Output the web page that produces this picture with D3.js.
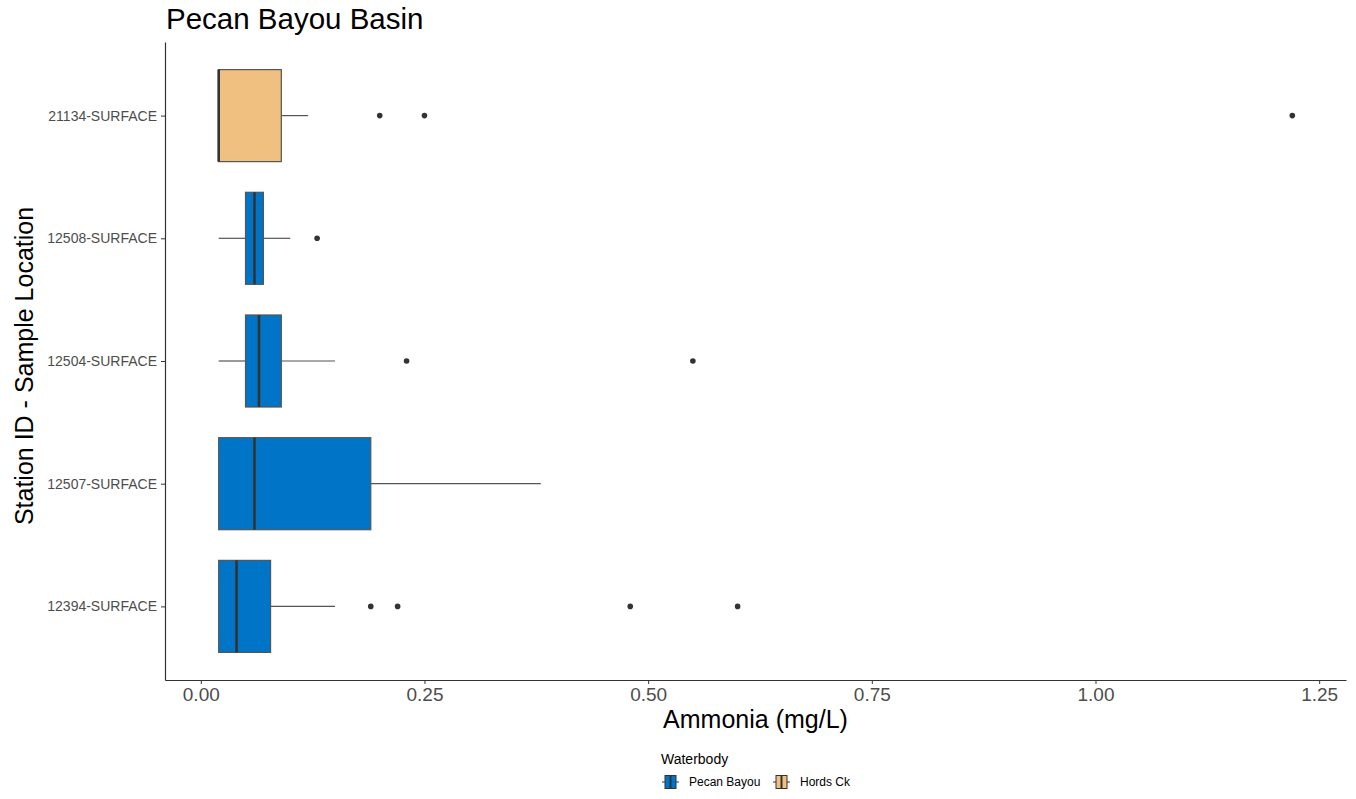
<!DOCTYPE html>
<html>
<head>
<meta charset="utf-8">
<script src="https://cdn.jsdelivr.net/npm/d3@7"></script>
<style>
  body { margin: 0; background: #fff; }
  text { font-family: "Liberation Sans", Arial, sans-serif; }
</style>
</head>
<body>
<svg></svg>
<script>
// Data (top to bottom)
const stations = ["21134-SURFACE", "12508-SURFACE", "12504-SURFACE", "12507-SURFACE", "12394-SURFACE"];
const waterbody = ["Hords Ck", "Pecan Bayou", "Pecan Bayou", "Pecan Bayou", "Pecan Bayou"];
const whiskerLow = [0.02, 0.02, 0.02, 0.02, 0.02];
const q1 = [0.02, 0.05, 0.05, 0.02, 0.02];
const median = [0.02, 0.06, 0.065, 0.06, 0.04];
const q3 = [0.09, 0.07, 0.09, 0.19, 0.078];
const whiskerHigh = [0.12, 0.10, 0.15, 0.38, 0.15];
const outliers = [[0.20, 0.25, 1.22], [0.13], [0.23, 0.55], [], [0.19, 0.22, 0.48, 0.60]];
const xTicks = [0, 0.25, 0.5, 0.75, 1.0, 1.25];
const legendKeys = ["Pecan Bayou", "Hords Ck"];

const colorMap = { "Pecan Bayou": "#0075C8", "Hords Ck": "#EFC07F" };

const W = 1356, H = 799;
const margin = { top: 42, right: 10, bottom: 119, left: 165 };
const width = W - margin.left - margin.right;
const height = H - margin.top - margin.bottom;

const svg = d3.select("svg").attr("width", W).attr("height", H);
const g = svg.append("g").attr("transform", `translate(${margin.left},${margin.top})`);

// ggplot-like expansion
const xScale = d3.scaleLinear().domain([-0.04, 1.28]).range([0, width]);
const yScale = d3.scalePoint().domain(stations).range([0, height]).padding(0.6);
const step = yScale.step();
const boxH = step * 0.75;

// Axes
const xAxis = g.append("g")
  .attr("transform", `translate(0,${height})`)
  .call(d3.axisBottom(xScale).tickValues(xTicks).tickFormat(d3.format(".2f")).tickSize(4).tickSizeOuter(0).tickPadding(4));
xAxis.select(".domain").attr("stroke", "#333").attr("stroke-width", 1.2);
xAxis.selectAll(".tick line").attr("stroke", "#333");
xAxis.selectAll(".tick text").attr("fill", "#4d4d4d").style("font-size", "19px");

const yAxis = g.append("g")
  .call(d3.axisLeft(yScale).tickSize(4).tickSizeOuter(0).tickPadding(4));
yAxis.select(".domain").attr("stroke", "#333").attr("stroke-width", 1.2);
yAxis.selectAll(".tick line").attr("stroke", "#333");
yAxis.selectAll(".tick text").attr("fill", "#4d4d4d").style("font-size", "14px");

// Boxes
const data = stations.map((s, i) => ({
  station: s, wb: waterbody[i], lo: whiskerLow[i], q1: q1[i], med: median[i],
  q3: q3[i], hi: whiskerHigh[i], out: outliers[i]
}));

const boxes = g.selectAll(".box").data(data).enter().append("g").attr("class", "box");

boxes.append("line")
  .attr("x1", d => xScale(d.lo)).attr("x2", d => xScale(d.q1))
  .attr("y1", d => yScale(d.station)).attr("y2", d => yScale(d.station))
  .attr("stroke", "#555").attr("stroke-width", 1.2);
boxes.append("line")
  .attr("x1", d => xScale(d.q3)).attr("x2", d => xScale(d.hi))
  .attr("y1", d => yScale(d.station)).attr("y2", d => yScale(d.station))
  .attr("stroke", "#555").attr("stroke-width", 1.2);

boxes.append("rect")
  .attr("x", d => xScale(d.q1))
  .attr("y", d => yScale(d.station) - boxH / 2)
  .attr("width", d => xScale(d.q3) - xScale(d.q1))
  .attr("height", boxH)
  .attr("fill", d => colorMap[d.wb])
  .attr("stroke", "#555").attr("stroke-width", 1.2);

boxes.append("line")
  .attr("x1", d => xScale(d.med)).attr("x2", d => xScale(d.med))
  .attr("y1", d => yScale(d.station) - boxH / 2).attr("y2", d => yScale(d.station) + boxH / 2)
  .attr("stroke", "#333").attr("stroke-width", 2.6);

boxes.selectAll("circle")
  .data(d => d.out.map(v => ({ v, station: d.station })))
  .enter().append("circle")
  .attr("cx", d => xScale(d.v)).attr("cy", d => yScale(d.station))
  .attr("r", 2.8).attr("fill", "#333");

// Titles
svg.append("text")
  .attr("x", margin.left + 1).attr("y", 29)
  .style("font-size", "29.5px").attr("fill", "#000")
  .text("Pecan Bayou Basin");

svg.append("text")
  .attr("x", margin.left + width / 2).attr("y", 728)
  .attr("text-anchor", "middle")
  .style("font-size", "25px").attr("fill", "#000")
  .text("Ammonia (mg/L)");

svg.append("text")
  .attr("transform", `translate(33,366) rotate(-90)`)
  .attr("text-anchor", "middle")
  .style("font-size", "25px").attr("fill", "#000")
  .text("Station ID - Sample Location");

// Legend
const legend = svg.append("g").attr("transform", "translate(661,0)");
legend.append("text").attr("x", 0).attr("y", 764)
  .style("font-size", "14px").attr("fill", "#000").text("Waterbody");

const keyOffsets = [0, 111];
legendKeys.forEach((k, i) => {
  const kg = legend.append("g").attr("transform", `translate(${keyOffsets[i]},782)`);
  kg.append("line").attr("x1", 1).attr("x2", 18).attr("y1", 0).attr("y2", 0)
    .attr("stroke", "#333").attr("stroke-width", 1);
  kg.append("rect").attr("x", 4).attr("y", -6.5).attr("width", 11).attr("height", 13)
    .attr("fill", colorMap[k]).attr("stroke", "#333").attr("stroke-width", 1);
  kg.append("line").attr("x1", 9.5).attr("x2", 9.5).attr("y1", -6.5).attr("y2", 6.5)
    .attr("stroke", "#333").attr("stroke-width", 2);
  kg.append("text").attr("x", 28).attr("y", 4)
    .style("font-size", "12px").attr("fill", "#000").text(k);
});
</script>
</body>
</html>
